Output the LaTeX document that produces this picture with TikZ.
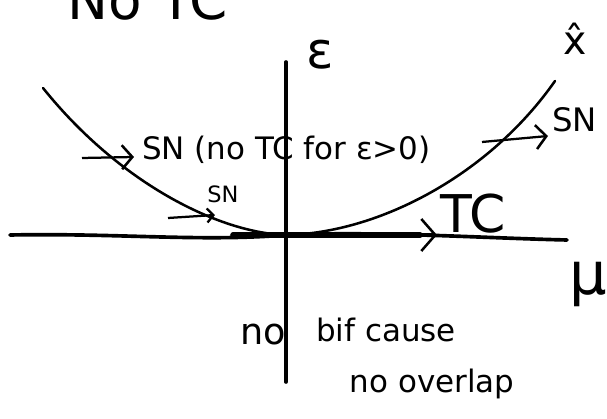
\documentclass[tikz,border=0pt]{standalone}
\usepackage{fontspec}
\setmainfont{DejaVu Sans}
\usetikzlibrary{arrows.meta,positioning}

\begin{document}
\begin{tikzpicture}[
  x=0.025cm, y=0.025cm,
  axis/.style={line width=2.6pt, line cap=round},
  branch/.style={line width=1.8pt, line cap=round},
  arr/.style={-{Straight Barb[length=2.6mm,width=6mm,line width=1.8pt]}, line width=1.6pt},
  note/.style={inner sep=0pt, anchor=base west}
]
\useasboundingbox (0,0) rectangle (607,419);
\clip (0,0) rectangle (607,419);

% axes
\coordinate (O) at (286,184);
\coordinate (muL) at (10,184);
\coordinate (muR) at (567,179);
\coordinate (epsB) at (286,37);
\coordinate (epsT) at (286,357);
\draw[axis] (muL) .. controls (120,186) and (200,177) .. (O) .. controls (380,188) and (480,181) .. (muR);
\draw[axis] (epsB) -- (epsT);
\draw[line width=4pt, line cap=round] (233,184) -- (420,184);

% SN curve
\coordinate (brL) at (43,331);
\coordinate (brR) at (555,338);
\draw[branch] (brL) .. controls (120,235) and (220,186) .. (O)
  .. controls (380,186) and (490,245) .. (brR);

% axis labels
\node[font=\fontsize{36}{40}\selectfont] (eps) at (320,364) {ε};
\node[font=\fontsize{42}{46}\selectfont] (mu) at (588,134) {μ};
\node[font=\fontsize{28}{32}\selectfont] (xhat) at (575,380) {\^{x}};

% labels
\node[note, font=\fontsize{39}{44}\selectfont] (title) at (67,399) {No TC};
\node[note, font=\fontsize{22}{26}\selectfont] (snbig) at (142,259) {SN (no TC for ε>0)};
\node[note, font=\fontsize{16}{20}\selectfont] (snsmall) at (207,216) {SN};
\node[note, font=\fontsize{23}{28}\selectfont] (snright) at (552,287) {SN};
\node[note, font=\fontsize{37}{42}\selectfont] (tc) at (440,186) {TC};
\node[font=\fontsize{26}{30}\selectfont] (no) at (263,84) {no};
\node[font=\fontsize{22}{26}\selectfont] (bif) at (386,89) {bif cause};
\node[font=\fontsize{22}{26}\selectfont] (overlap) at (432,35) {no overlap};

% pointers
\coordinate (tailL) at (82,261);
\coordinate (tipL) at (134,262);
\coordinate (tailS) at (168,201);
\coordinate (tipS) at (215,204);
\coordinate (tailR) at (482,277);
\coordinate (tipR) at (548,283);
\coordinate (tailT) at (360,184);
\coordinate (tipT) at (437,184);
\draw[arr] (tailL) -- (tipL);
\draw[arr, -{Straight Barb[length=1.6mm,width=3.5mm,line width=1.6pt]}] (tailS) -- (tipS);
\draw[arr] (tailR) -- (tipR);
\draw[arr, line width=3pt, -{Straight Barb[length=3.5mm,width=8mm,line width=1.8pt]}] (tailT) -- (tipT);
\end{tikzpicture}
\end{document}
